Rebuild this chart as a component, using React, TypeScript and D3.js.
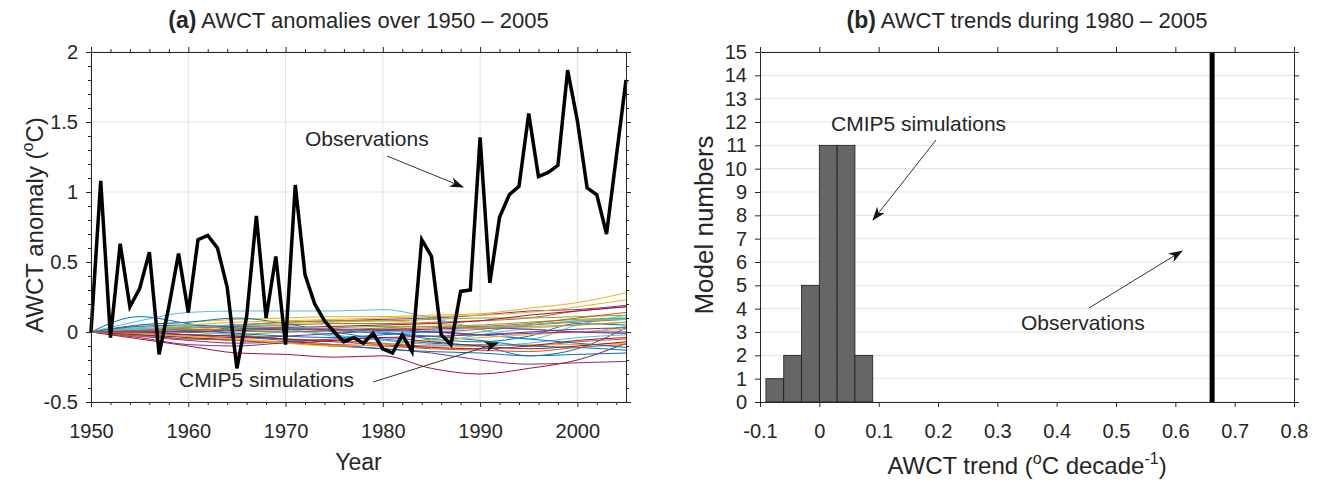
import React, { useEffect, useRef } from "react";
import * as d3 from "d3";

// ---- panel (a) data ----
const obsYears = d3.range(1950, 2006);
const obsValues = [
  0, 1.08, -0.04, 0.63, 0.18, 0.31, 0.57, -0.16, 0.18, 0.56,
  0.14, 0.66, 0.69, 0.6, 0.32, -0.26, 0.11, 0.83, 0.1, 0.54,
  -0.09, 1.05, 0.41, 0.2, 0.08, 0.0, -0.07, -0.04, -0.08, -0.01,
  -0.12, -0.15, -0.02, -0.14, 0.66, 0.54, -0.02, -0.09, 0.29, 0.3,
  1.39, 0.35, 0.82, 0.98, 1.04, 1.56, 1.11, 1.14, 1.19, 1.87,
  1.51, 1.03, 0.98, 0.7, 1.25, 1.8,
];

const simYears = [1950, 1955, 1960, 1965, 1970, 1975, 1980, 1985, 1990, 1995, 2000, 2005];
const simSeries = [
  [0, 0.11, 0.06, 0.02, 0.03, 0.02, 0.0, -0.05, -0.07, -0.03, 0.06, 0.05],
  [0, 0.02, 0.03, 0.04, 0.05, 0.06, 0.06, 0.07, 0.08, 0.1, 0.15, 0.18],
  [0, 0.05, 0.07, 0.09, 0.1, 0.11, 0.11, 0.12, 0.13, 0.17, 0.21, 0.28],
  [0, -0.04, -0.09, -0.1, -0.08, -0.1, -0.12, -0.15, -0.2, -0.23, -0.22, -0.21],
  [0, 0.01, 0.0, -0.02, -0.05, -0.1, -0.09, -0.05, 0.0, 0.05, 0.08, 0.1],
  [0, 0.08, 0.14, 0.15, 0.15, 0.15, 0.16, 0.1, 0.02, -0.05, 0.05, 0.12],
  [0, -0.05, -0.1, -0.15, -0.16, -0.18, -0.17, -0.26, -0.3, -0.26, -0.2, -0.08],
  [0, 0.05, 0.07, 0.1, 0.06, 0.0, -0.05, -0.08, -0.1, -0.17, -0.12, 0.03],
  [0, 0.0, -0.02, -0.03, -0.05, -0.06, -0.08, -0.1, -0.09, -0.1, -0.07, -0.05],
  [0, 0.03, 0.02, 0.04, 0.06, 0.07, 0.08, 0.06, 0.04, 0.03, 0.05, 0.07],
  [0, 0.02, 0.03, 0.05, 0.07, 0.08, 0.09, 0.1, 0.12, 0.15, 0.16, 0.19],
  [0, 0.02, 0.04, 0.05, 0.07, 0.08, 0.08, 0.09, 0.1, 0.1, 0.11, 0.12],
  [0, 0.03, 0.05, 0.04, 0.02, -0.02, -0.06, -0.07, -0.02, 0.02, 0.0, 0.04],
  [0, 0.01, 0.0, 0.02, 0.03, 0.04, 0.05, 0.06, 0.08, 0.12, 0.15, 0.18],
  [0, -0.02, -0.05, -0.04, -0.06, -0.09, -0.12, -0.14, -0.15, -0.17, -0.16, -0.15],
  [0, 0.01, 0.03, 0.04, 0.03, 0.02, 0.01, 0.0, 0.02, 0.05, 0.07, 0.09],
  [0, -0.01, -0.03, -0.05, -0.07, -0.09, -0.1, -0.11, -0.1, -0.09, -0.09, -0.08],
  [0, -0.03, -0.06, -0.08, -0.07, -0.05, -0.04, -0.03, -0.02, 0.0, 0.02, 0.03],
  [0, -0.02, -0.03, -0.02, 0.0, 0.01, 0.03, 0.04, 0.05, 0.07, 0.09, 0.1],
  [0, -0.01, -0.02, 0.0, 0.01, -0.03, -0.06, -0.09, -0.1, -0.08, -0.04, -0.02],
  [0, -0.02, -0.04, -0.06, -0.08, -0.06, -0.04, -0.07, -0.1, -0.12, -0.1, -0.07],
  [0, 0.04, 0.05, 0.03, 0.02, 0.01, -0.01, -0.03, -0.06, -0.1, -0.11, -0.13],
  [0, -0.03, -0.05, -0.06, -0.08, -0.09, -0.1, -0.12, -0.13, -0.14, -0.11, -0.09],
  [0, 0.02, 0.05, 0.07, 0.08, 0.09, 0.1, 0.11, 0.12, 0.14, 0.18, 0.23],
  [0, 0.0, -0.02, -0.04, -0.03, -0.01, 0.01, 0.02, 0.03, 0.02, 0.0, -0.01],
  [0, 0.0, 0.01, 0.02, 0.02, 0.03, 0.04, 0.04, 0.03, 0.04, 0.05, 0.07],
  [0, 0.02, 0.03, 0.05, 0.04, 0.02, 0.0, 0.01, 0.03, 0.05, 0.08, 0.09],
  [0, -0.01, -0.02, -0.03, -0.05, -0.07, -0.09, -0.11, -0.12, -0.1, -0.06, -0.04],
  [0, 0.0, 0.01, -0.01, -0.03, -0.04, -0.02, 0.0, -0.02, -0.05, -0.08, -0.11],
  [0, 0.01, 0.02, 0.01, 0.0, 0.01, 0.02, 0.03, 0.04, 0.06, 0.1, 0.14],
  [0, -0.01, -0.03, -0.05, -0.08, -0.1, -0.09, -0.06, -0.04, -0.02, 0.0, 0.02],
  [0, 0.0, 0.0, 0.01, 0.02, 0.02, 0.02, 0.0, -0.02, -0.01, 0.0, 0.0],
];
const simColors = ["#0072BD", "#D95319", "#EDB120", "#7E2F8E", "#77AC30", "#4DBEEE", "#A2142F"];

const yearTicks = [1950, 1960, 1970, 1980, 1990, 2000];
const yearMinor = [1952, 1954, 1956, 1958, 1962, 1964, 1966, 1968, 1972, 1974, 1976, 1978,
  1982, 1984, 1986, 1988, 1992, 1994, 1996, 1998, 2002, 2004];
const anomTicks = [-0.5, 0, 0.5, 1, 1.5, 2];
const anomMinor = [-0.4, -0.3, -0.2, -0.1, 0.1, 0.2, 0.3, 0.4, 0.6, 0.7, 0.8, 0.9,
  1.1, 1.2, 1.3, 1.4, 1.6, 1.7, 1.8, 1.9];

// ---- panel (b) data ----
const binEdges = [-0.09, -0.06, -0.03, 0, 0.03, 0.06, 0.09];
const binCounts = [1, 2, 5, 11, 11, 2];
const obsTrend = 0.662;
const trendTicks = [-0.1, 0, 0.1, 0.2, 0.3, 0.4, 0.5, 0.6, 0.7, 0.8];
const countTicks = [0, 1, 2, 3, 4, 5, 6, 7, 8, 9, 10, 11, 12, 13, 14, 15];

const FONT = "'Liberation Sans', Arial, Helvetica, sans-serif";
const INK = "#262626";

const App = () => {
  const svgRef = useRef(null);

  useEffect(() => {
    const svg = d3.select(svgRef.current);
    svg.selectAll("*").remove();

    svg
      .append("defs")
      .append("marker")
      .attr("id", "arrow")
      .attr("viewBox", "0 0 14 10")
      .attr("refX", 13)
      .attr("refY", 5)
      .attr("markerWidth", 14)
      .attr("markerHeight", 10)
      .attr("markerUnits", "userSpaceOnUse")
      .attr("orient", "auto")
      .append("path")
      .attr("d", "M0,0 L14,5 L0,10 L4,5 Z")
      .attr("fill", "#111");

    const styleAxis = (g, fs = 20) => {
      g.attr("font-family", FONT).attr("font-size", fs).attr("color", INK);
      g.selectAll("path.domain").attr("stroke", INK);
    };

    const label = (x, y, txt, fs = 21) =>
      svg
        .append("text")
        .attr("x", x)
        .attr("y", y)
        .attr("font-family", FONT)
        .attr("font-size", fs)
        .attr("fill", INK)
        .text(txt);

    const arrow = (x1, y1, x2, y2) =>
      svg
        .append("line")
        .attr("x1", x1)
        .attr("y1", y1)
        .attr("x2", x2)
        .attr("y2", y2)
        .attr("stroke", "#333")
        .attr("stroke-width", 1)
        .attr("marker-end", "url(#arrow)");

    // ================= panel (a) =================
    const x = d3.scaleLinear().domain([1950, 2005]).range([91, 626]);
    const y = d3.scaleLinear().domain([-0.5, 2]).range([402, 52]);

    // grid
    svg
      .append("g")
      .selectAll("line")
      .data(yearTicks)
      .join("line")
      .attr("x1", (d) => x(d))
      .attr("x2", (d) => x(d))
      .attr("y1", y(-0.5))
      .attr("y2", y(2))
      .attr("stroke", "#e3e3e3");
    svg
      .append("g")
      .selectAll("line")
      .data(anomTicks)
      .join("line")
      .attr("x1", x(1950))
      .attr("x2", x(2005))
      .attr("y1", (d) => y(d))
      .attr("y2", (d) => y(d))
      .attr("stroke", "#e3e3e3");

    // simulations
    const simLine = d3
      .line()
      .x((d, i) => x(simYears[i]))
      .y((d) => y(d))
      .curve(d3.curveMonotoneX);
    svg
      .append("g")
      .selectAll("path")
      .data(simSeries)
      .join("path")
      .attr("d", (d) => simLine(d))
      .attr("fill", "none")
      .attr("stroke", (d, i) => simColors[i % simColors.length])
      .attr("stroke-width", 1);

    // observations
    const obsLine = d3
      .line()
      .x((d, i) => x(obsYears[i]))
      .y((d) => y(d));
    svg
      .append("path")
      .attr("d", obsLine(obsValues))
      .attr("fill", "none")
      .attr("stroke", "#000")
      .attr("stroke-width", 3.5)
      .attr("stroke-linejoin", "miter");

    // axes
    const fmt = (d) => String(d);
    const ax = svg.append("g").attr("transform", `translate(0,${y(-0.5)})`)
      .call(d3.axisBottom(x).tickValues(yearTicks).tickSize(5).tickSizeOuter(0).tickPadding(17).tickFormat(fmt));
    styleAxis(ax);
    svg.append("g").attr("transform", `translate(0,${y(-0.5)})`)
      .call(d3.axisBottom(x).tickValues(yearMinor).tickSize(3).tickSizeOuter(0).tickFormat(() => ""))
      .call((g) => styleAxis(g));
    svg.append("g").attr("transform", `translate(0,${y(2)})`)
      .call(d3.axisTop(x).tickValues(yearTicks).tickSize(5).tickSizeOuter(0).tickFormat(() => ""))
      .call((g) => styleAxis(g));
    svg.append("g").attr("transform", `translate(0,${y(2)})`)
      .call(d3.axisTop(x).tickValues(yearMinor).tickSize(3).tickSizeOuter(0).tickFormat(() => ""))
      .call((g) => styleAxis(g));
    const ay = svg.append("g").attr("transform", `translate(${x(1950)},0)`)
      .call(d3.axisLeft(y).tickValues(anomTicks).tickSize(5).tickSizeOuter(0).tickPadding(8).tickFormat(fmt));
    styleAxis(ay);
    svg.append("g").attr("transform", `translate(${x(1950)},0)`)
      .call(d3.axisLeft(y).tickValues(anomMinor).tickSize(3).tickSizeOuter(0).tickFormat(() => ""))
      .call((g) => styleAxis(g));
    svg.append("g").attr("transform", `translate(${x(2005)},0)`)
      .call(d3.axisRight(y).tickValues(anomTicks).tickSize(5).tickSizeOuter(0).tickFormat(() => ""))
      .call((g) => styleAxis(g));
    svg.append("g").attr("transform", `translate(${x(2005)},0)`)
      .call(d3.axisRight(y).tickValues(anomMinor).tickSize(3).tickSizeOuter(0).tickFormat(() => ""))
      .call((g) => styleAxis(g));

    // titles and labels
    const ta = svg
      .append("text")
      .attr("x", (x(1950) + x(2005)) / 2)
      .attr("y", 28)
      .attr("text-anchor", "middle")
      .attr("font-family", FONT)
      .attr("font-size", 22)
      .attr("fill", INK);
    ta.append("tspan").attr("font-weight", "bold").attr("font-size", 23).text("(a)");
    ta.append("tspan").text(" AWCT anomalies over 1950 – 2005");

    label((x(1950) + x(2005)) / 2, 470, "Year", 23).attr("text-anchor", "middle");

    const yla = svg
      .append("text")
      .attr("transform", "translate(43,225) rotate(-90)")
      .attr("text-anchor", "middle")
      .attr("font-family", FONT)
      .attr("font-size", 24)
      .attr("fill", INK);
    yla.append("tspan").text("AWCT anomaly (");
    yla.append("tspan").attr("font-size", 16).attr("dy", -10).text("o");
    yla.append("tspan").attr("dy", 10).text("C)");

    label(305, 146, "Observations");
    arrow(387, 156, 463, 187);
    label(179, 387, "CMIP5 simulations");
    arrow(373, 382, 498, 343);

    // ================= panel (b) =================
    const xb = d3.scaleLinear().domain([-0.1, 0.8]).range([760, 1294]);
    const yb = d3.scaleLinear().domain([0, 15]).range([402, 52]);

    svg
      .append("g")
      .selectAll("line")
      .data(countTicks)
      .join("line")
      .attr("x1", xb(-0.1))
      .attr("x2", xb(0.8))
      .attr("y1", (d) => yb(d))
      .attr("y2", (d) => yb(d))
      .attr("stroke", "#e3e3e3");

    svg
      .append("g")
      .selectAll("rect")
      .data(binCounts)
      .join("rect")
      .attr("x", (d, i) => xb(binEdges[i]))
      .attr("width", (d, i) => xb(binEdges[i + 1]) - xb(binEdges[i]))
      .attr("y", (d) => yb(d))
      .attr("height", (d) => yb(0) - yb(d))
      .attr("fill", "#666666")
      .attr("stroke", "#1a1a1a")
      .attr("stroke-width", 0.8);

    svg
      .append("line")
      .attr("x1", xb(obsTrend))
      .attr("x2", xb(obsTrend))
      .attr("y1", yb(0))
      .attr("y2", yb(15))
      .attr("stroke", "#000")
      .attr("stroke-width", 5);

    const bx = svg.append("g").attr("transform", `translate(0,${yb(0)})`)
      .call(d3.axisBottom(xb).tickValues(trendTicks).tickSize(5).tickSizeOuter(0).tickPadding(17).tickFormat(fmt));
    styleAxis(bx);
    svg.append("g").attr("transform", `translate(0,${yb(15)})`)
      .call(d3.axisTop(xb).tickValues(trendTicks).tickSize(5).tickSizeOuter(0).tickFormat(() => ""))
      .call((g) => styleAxis(g));
    const by = svg.append("g").attr("transform", `translate(${xb(-0.1)},0)`)
      .call(d3.axisLeft(yb).tickValues(countTicks).tickSize(5).tickSizeOuter(0).tickPadding(8).tickFormat(fmt));
    styleAxis(by);
    svg.append("g").attr("transform", `translate(${xb(0.8)},0)`)
      .call(d3.axisRight(yb).tickValues(countTicks).tickSize(5).tickSizeOuter(0).tickFormat(() => ""))
      .call((g) => styleAxis(g));

    const tb = svg
      .append("text")
      .attr("x", (xb(-0.1) + xb(0.8)) / 2)
      .attr("y", 28)
      .attr("text-anchor", "middle")
      .attr("font-family", FONT)
      .attr("font-size", 22)
      .attr("fill", INK);
    tb.append("tspan").attr("font-weight", "bold").attr("font-size", 23).text("(b)");
    tb.append("tspan").text(" AWCT trends during 1980 – 2005");

    const xlb = svg
      .append("text")
      .attr("x", (xb(-0.1) + xb(0.8)) / 2)
      .attr("y", 474)
      .attr("text-anchor", "middle")
      .attr("font-family", FONT)
      .attr("font-size", 24)
      .attr("fill", INK);
    xlb.append("tspan").text("AWCT trend (");
    xlb.append("tspan").attr("font-size", 16).attr("dy", -10).text("o");
    xlb.append("tspan").attr("dy", 10).text("C decade");
    xlb.append("tspan").attr("font-size", 16).attr("dy", -10).text("-1");
    xlb.append("tspan").attr("dy", 10).text(")");

    svg
      .append("text")
      .attr("transform", "translate(713,225) rotate(-90)")
      .attr("text-anchor", "middle")
      .attr("font-family", FONT)
      .attr("font-size", 26)
      .attr("fill", INK)
      .text("Model numbers");

    label(831, 131, "CMIP5 simulations");
    arrow(936, 140, 873, 220);
    label(1021, 330, "Observations");
    arrow(1089, 308, 1182, 251);
  }, []);

  return (
    <svg
      ref={svgRef}
      width={1318}
      height={482}
      style={{ position: "absolute", left: 0, top: 0, background: "#fff" }}
    ></svg>
  );
};

export default App;
